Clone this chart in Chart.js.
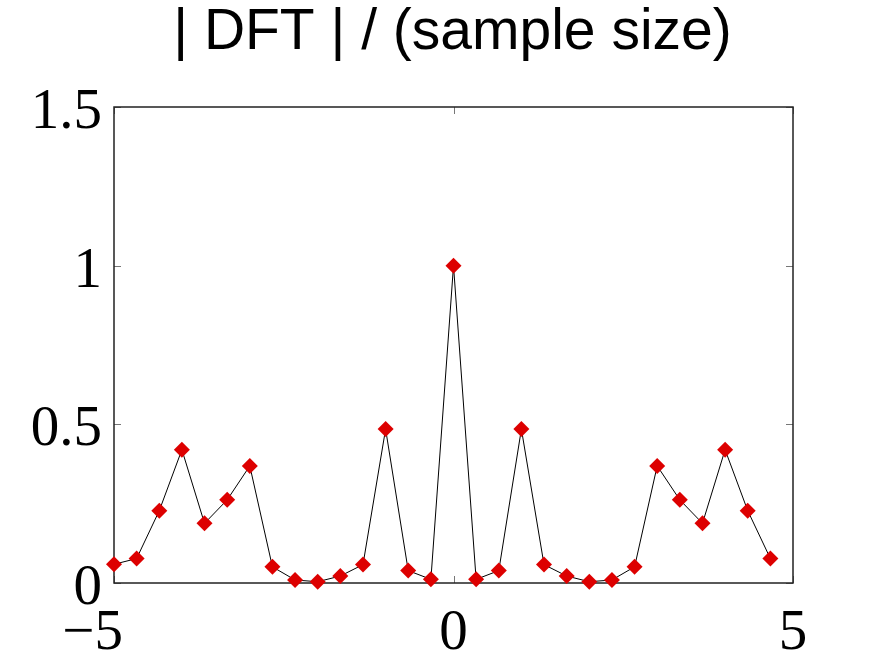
<!DOCTYPE html>
<html lang="es">
<head>
<meta charset="utf-8">
<title>| DFT | / (sample size)</title>
<script src="https://cdn.jsdelivr.net/npm/chart.js@4/dist/chart.umd.min.js"></script>
<style>
  body { margin: 0; background: #fff; }
  canvas { display: block; }
</style>
</head>
<body>
<canvas id="grafico" width="875" height="658"></canvas>
<script>
// Frecuencias del eje x
const frecuencias = [-5, -4.667, -4.333, -4, -3.667, -3.333, -3, -2.667, -2.333, -2,
  -1.667, -1.333, -1, -0.667, -0.333, 0, 0.333, 0.667, 1, 1.333,
  1.667, 2, 2.333, 2.667, 3, 3.333, 3.667, 4, 4.333, 4.667];

// |DFT| / (tamaño de muestra)
const magnitudes = [0.059, 0.077, 0.228, 0.42, 0.188, 0.262, 0.369, 0.051, 0.0095, 0.004,
  0.022, 0.058, 0.485, 0.039, 0.0115, 1.0, 0.0115, 0.039, 0.485, 0.058,
  0.022, 0.004, 0.0095, 0.051, 0.369, 0.262, 0.188, 0.42, 0.228, 0.077];

// Marcas de los ejes
const marcasX = [-5, 0, 5];
const marcasY = [0, 0.5, 1, 1.5];

const titulo = '| DFT | / (sample size)';

// Arma los puntos {x, y} para la escala lineal
const puntos = frecuencias.map((f, i) => ({ x: f, y: magnitudes[i] }));

// Plugin: caja alrededor del gráfico y marcas hacia dentro (estilo MATLAB)
const cajaMatlab = {
    id: 'cajaMatlab',
    beforeDatasetsDraw(chart) {
        const { ctx, chartArea: a, scales } = chart;
        const largo = 7;
        ctx.save();
        ctx.strokeStyle = '#777';
        ctx.lineWidth = 1;
        marcasY.forEach(v => {
            const y = Math.round(scales.y.getPixelForValue(v)) + 0.5;
            ctx.beginPath();
            ctx.moveTo(a.left, y);
            ctx.lineTo(a.left + largo, y);
            ctx.moveTo(a.right, y);
            ctx.lineTo(a.right - largo, y);
            ctx.stroke();
        });
        marcasX.forEach(v => {
            const x = Math.round(scales.x.getPixelForValue(v)) + 0.5;
            ctx.beginPath();
            ctx.moveTo(x, a.bottom);
            ctx.lineTo(x, a.bottom - largo);
            ctx.moveTo(x, a.top);
            ctx.lineTo(x, a.top + largo);
            ctx.stroke();
        });
        ctx.strokeStyle = '#222';
        ctx.lineWidth = 1.5;
        ctx.strokeRect(a.left, a.top, a.right - a.left, a.bottom - a.top);
        ctx.restore();
    }
};

// Formato de las etiquetas (signo menos tipográfico; el espacio final corre el negativo a la izquierda como en MATLAB)
const formatoNumero = (v) => (v < 0 ? '\u2212' + Math.abs(v) + '\u2002\u2005' : String(v));

const fuenteEjes = { family: '"Liberation Serif", "Times New Roman", serif', size: 57 };

const ctx = document.getElementById('grafico').getContext('2d');

const grafico = new Chart(ctx, {
    type: 'line',
    data: {
        datasets: [
            {
                data: puntos,
                borderColor: '#000',
                borderWidth: 1,
                tension: 0,
                pointStyle: 'rectRot',
                pointRadius: 8,
                pointHoverRadius: 8,
                pointBackgroundColor: '#dd0000',
                pointBorderColor: '#dd0000',
                pointBorderWidth: 0,
                clip: false,
            },
        ],
    },
    options: {
        responsive: false,
        animation: false,
        devicePixelRatio: 1,
        layout: { padding: { left: 30, right: 0, top: 0, bottom: 0 } },
        plugins: {
            legend: { display: false },
            tooltip: { enabled: false },
            title: {
                display: true,
                text: titulo,
                color: '#000',
                font: { family: '"Liberation Sans", Arial, sans-serif', size: 57, weight: 'normal', lineHeight: 1.0 },
                padding: { top: 5, bottom: 45 },
            },
        },
        scales: {
            x: {
                type: 'linear',
                min: -5,
                max: 5,
                afterBuildTicks: (escala) => { escala.ticks = marcasX.map(v => ({ value: v })); },
                afterFit: (escala) => { escala.height = 75; },
                grid: { display: false, drawTicks: false },
                border: { display: false },
                ticks: {
                    color: '#000',
                    font: fuenteEjes,
                    padding: 17,
                    maxRotation: 0,
                    callback: formatoNumero,
                },
            },
            y: {
                type: 'linear',
                min: 0,
                max: 1.5,
                afterBuildTicks: (escala) => { escala.ticks = marcasY.map(v => ({ value: v })); },
                afterFit: (escala) => { escala.width = 84; },
                grid: { display: false, drawTicks: false },
                border: { display: false },
                ticks: {
                    color: '#000',
                    font: fuenteEjes,
                    padding: 12,
                    labelOffset: 6,
                    callback: formatoNumero,
                },
            },
            // Eje vacío a la derecha solo para reservar espacio
            derecha: {
                type: 'linear',
                position: 'right',
                display: true,
                afterFit: (escala) => { escala.width = 82; },
                grid: { display: false, drawTicks: false },
                border: { display: false },
                ticks: { display: false },
            },
        },
    },
    plugins: [cajaMatlab],
});
</script>
</body>
</html>
